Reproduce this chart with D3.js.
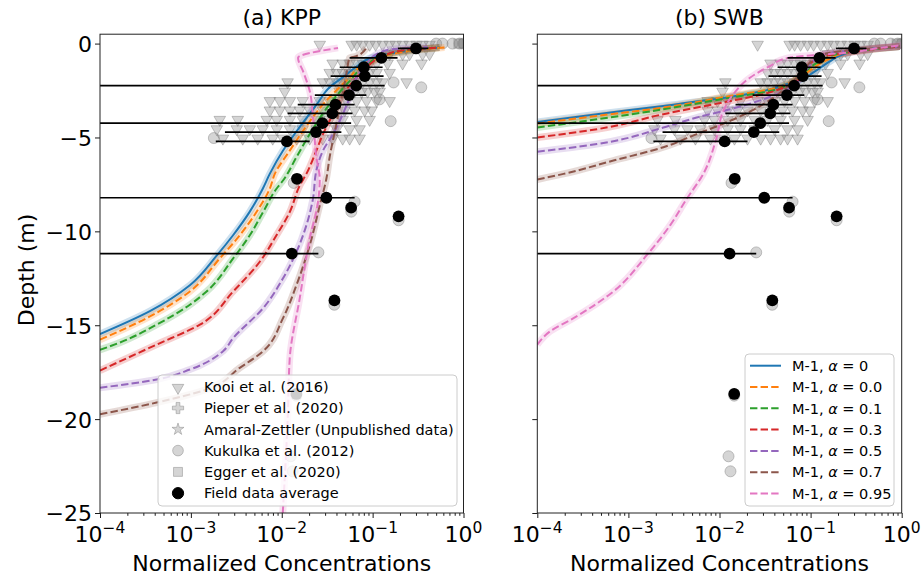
<!DOCTYPE html>
<html><head><meta charset="utf-8">
<script src="https://cdn.jsdelivr.net/npm/d3@7"></script>
<style>body{margin:0;background:#fff} text{font-family:"DejaVu Sans",sans-serif;fill:#000}</style>
</head><body><svg id="c" width="924" height="576"></svg>
<script>
// ---------------- DATA ----------------
const xTicks = [1e-4, 1e-3, 1e-2, 1e-1, 1];
const xTickExp = ["\u22124", "\u22123", "\u22122", "\u22121", "0"];
const yTicks = [0, -5, -10, -15, -20, -25];
const panelTitles = ["(a) KPP", "(b) SWB"];
const seriesLabels = ["0", "0.0", "0.1", "0.3", "0.5", "0.7", "0.95"];
const seriesColors = ["#1f77b4", "#ff7f0e", "#2ca02c", "#d62728", "#9467bd", "#8c564b", "#e377c2"];
const fieldLegendLabels = ["Kooi et al. (2016)", "Pieper et al. (2020)", "Amaral-Zettler (Unpublished data)", "Kukulka et al. (2012)", "Egger et al. (2020)", "Field data average"];

// Kooi et al. (2016) observations: rows of depths, concentrations per row
const kooiDepths = [0, -0.5, -1, -1.5, -2, -2.5, -3, -3.5, -4, -4.5, -5];
const kooiConc = [
  [0.0262, 0.0588, 0.0667, 0.0776, 0.0927, 0.1079, 0.1288, 0.1538, 0.1791, 0.2138, 0.2553, 0.3048, 0.354, 0.4227],
  [0.1538, 0.2138, 0.2553, 0.354, 0.4227],
  [0.0363, 0.0468, 0.0559, 0.0667, 0.0776, 0.0927, 0.1107, 0.1462, 0.2138, 0.3451],
  [0.0337, 0.0402, 0.0468, 0.0559, 0.0667, 0.0776, 0.0927, 0.1107, 0.1538],
  [0.0116, 0.0283, 0.0337, 0.0402, 0.0468, 0.0559, 0.0667, 0.0776, 0.0927, 0.1107, 0.1288, 0.2366],
  [0.0108, 0.0434, 0.0518, 0.0634, 0.0757, 0.0881, 0.1052, 0.1194],
  [0.0074, 0.0095, 0.0123, 0.017, 0.0262, 0.0337, 0.0412, 0.0518, 0.0667, 0.0859, 0.1107, 0.1538],
  [0.0074, 0.0095, 0.0123, 0.0158, 0.0203, 0.0283, 0.0382, 0.0492, 0.0634, 0.0817, 0.0975],
  [0.00208, 0.00328, 0.00684, 0.00881, 0.0123, 0.017, 0.0243, 0.0337, 0.0468, 0.0667, 0.0927],
  [0.00193, 0.0032, 0.00445, 0.00618, 0.00881, 0.0123, 0.017, 0.0243, 0.0402, 0.0559, 0.0719],
  [0.00225, 0.00372, 0.00544, 0.00796, 0.0103, 0.0146, 0.0203, 0.0283, 0.0363, 0.0468, 0.0559, 0.0719]
];
// Kukulka et al. (2012)
const kukulkaConc = [0.50, 0.587, 0.757, 0.904, 1.0, 0.170, 0.343, 0.119, 0.158, 0.00179, 0.01355, 0.0634, 0.0583, 0.193, 0.0253, 0.0379, 0.0145, 0.01256, 0.0132];
const kukulkaDepth = [0, 0, 0, 0, 0, -2.07, -2.33, -2.97, -4.13, -5.03, -7.42, -8.42, -8.95, -9.41, -11.12, -13.91, -18.75, -21.98, -22.78];
// Egger et al. (2020)
const eggerConc = [0.88, 1.0];
const eggerDepth = [0, 0];
// Field data average with spread
const fieldConc = [0.30, 0.125, 0.080, 0.082, 0.066, 0.055, 0.039, 0.036, 0.028, 0.0238, 0.0114, 0.0147, 0.031, 0.058, 0.193, 0.0129, 0.038, 0.0145];
const fieldDepth = [-0.26, -0.76, -1.26, -1.73, -2.24, -2.74, -3.25, -3.72, -4.24, -4.71, -5.21, -7.2, -8.21, -8.74, -9.2, -11.19, -13.68, -18.66];
const fieldLo = [0.19, 0.0558, 0.0434, 0.0345, 0, 0.0231, 0.015, 0.0116, 0, 0.00237, 0.00188, null, 0, null, null, 0, null, null];
const fieldHi = [0.41, 0.188, 0.1288, 0.132, 0.1355, 0.0853, 0.0634, 0.060, 0.058, 0.0453, 0.0203, null, 0.0634, null, null, 0.0253, null, null];

// Model profiles [concentration, depth]
const kppA0 = [[1e-4,-15.47],[3.54e-4,-14.25],[9.75e-4,-12.87],[0.00193,-11.28],[0.0029,-10.22],[0.00445,-8.95],[0.00618,-7.73],[0.00738,-6.94],[0.01026,-5.72],[0.01462,-4.66],[0.02427,-3.24],[0.03365,-2.33],[0.05176,-1.64],[0.0667,-1.22],[0.1,-0.74],[0.1837,-0.48],[0.3048,-0.32],[0.5445,-0.21]];
const kppA00 = [[1e-4,-15.77],[3.54e-4,-14.53],[9.75e-4,-13.2],[0.00208,-11.44],[0.00345,-10.21],[0.00527,-8.97],[0.00738,-7.73],[0.00838,-6.94],[0.01225,-5.7],[0.01714,-4.65],[0.02844,-3.24],[0.05585,-1.8],[0.0719,-1.27],[0.1194,-0.74],[0.198,-0.48],[0.328,-0.32],[0.618,-0.21]];
const kppA01 = [[1e-4,-16.31],[1.8e-4,-15.85],[4.2e-4,-14.97],[9.75e-4,-13.91],[0.00149,-13.2],[0.00292,-11.44],[0.00445,-10.21],[0.00624,-8.97],[0.00875,-7.73],[0.01033,-7.29],[0.01452,-6.05],[0.02032,-4.82],[0.03365,-3.23],[0.05585,-2.0],[0.0853,-1.11],[0.1288,-0.67],[0.225,-0.37],[0.5445,-0.21]];
const kppA03 = [[1e-4,-17.41],[4.2e-4,-16.03],[0.001256,-14.97],[0.00292,-13.2],[0.00573,-11.62],[0.00875,-10.21],[0.01225,-8.97],[0.01578,-7.56],[0.01866,-6.94],[0.02404,-5.7],[0.02844,-4.82],[0.03664,-3.76],[0.04721,-2.7],[0.0662,-1.82],[0.0927,-1.11],[0.1416,-0.58],[0.2553,-0.32],[0.5445,-0.21]];
const kppA05 = [[1e-4,-18.33],[4.2e-4,-17.89],[9.75e-4,-17.36],[0.00226,-16.38],[0.00292,-15.68],[0.00624,-14.09],[0.01033,-12.5],[0.01452,-11.09],[0.01866,-9.68],[0.02208,-8.26],[0.02404,-6.76],[0.02844,-5.7],[0.03664,-4.82],[0.04335,-4.12],[0.05585,-2.88],[0.0662,-1.82],[0.0853,-1.11],[0.1096,-0.58],[0.1538,-0.32],[0.4,-0.18]];
const kppA07 = [[1e-4,-19.74],[4.2e-4,-19.12],[0.00149,-18.42],[0.00345,-17.27],[0.00624,-16.38],[0.01033,-14.62],[0.01452,-12.86],[0.02032,-10.74],[0.02618,-8.62],[0.03097,-7.2],[0.03365,-6.05],[0.0399,-4.29],[0.04721,-2.53],[0.0514,-1.64],[0.05585,-0.76],[0.0662,-0.67],[0.0853,-0.23]];
const kppA095 = [[0.01026,-25],[0.01164,-19.92],[0.01225,-16.74],[0.01578,-13.56],[0.02032,-10.38],[0.02489,-8.53],[0.02618,-7.2],[0.02404,-6.05],[0.02208,-3.94],[0.02032,-2.53],[0.01714,-1.47],[0.0151,-0.76],[0.0416,-0.23]];

const swbA0 = [[1e-4,-4.17],[4.51e-4,-3.76],[0.00242,-3.32],[0.00855,-2.97],[0.01986,-2.7],[0.03573,-2.44],[0.05445,-2.17],[0.0706,-2.01],[0.1114,-1.48],[0.1626,-0.95],[0.2254,-0.58],[0.3936,-0.32],[0.95,-0.16]];
const swbA00 = [[1e-4,-4.26],[4.51e-4,-3.85],[0.00242,-3.41],[0.01303,-2.79],[0.03573,-2.44],[0.0701,-1.91],[0.1067,-1.3],[0.1626,-0.8],[0.2254,-0.53],[0.3936,-0.32],[0.95,-0.16]];
const swbA01 = [[1e-4,-4.47],[4.51e-4,-4.03],[0.00242,-3.5],[0.01303,-2.88],[0.03573,-2.53],[0.0593,-2.17],[0.0828,-1.59],[0.1262,-0.95],[0.2094,-0.53],[0.4457,-0.32],[0.95,-0.16]];
const swbA03 = [[1e-4,-5.0],[4.51e-4,-4.56],[0.00242,-3.76],[0.01303,-3.06],[0.0302,-2.7],[0.05,-2.35],[0.0701,-2.0],[0.1067,-0.94],[0.1374,-0.67],[0.2477,-0.49],[0.4457,-0.32],[0.95,-0.16]];
const swbA05 = [[1e-4,-5.76],[4.51e-4,-5.35],[0.00242,-4.47],[0.00562,-3.94],[0.01303,-3.5],[0.0302,-2.97],[0.0593,-2.35],[0.0828,-1.64],[0.1067,-0.94],[0.1374,-0.58],[0.2692,-0.37],[0.95,-0.16]];
const swbA07 = [[1e-4,-7.24],[1.94e-4,-6.94],[6.85e-4,-6.23],[0.00242,-5.52],[0.00562,-4.82],[0.01303,-4.12],[0.0302,-3.23],[0.05445,-2.35],[0.0828,-1.47],[0.1161,-0.76],[0.1626,-0.49],[0.3467,-0.32],[0.95,-0.16]];
const swbA095 = [[1e-4,-16.03],[1.387e-4,-15.32],[2.5e-4,-14.62],[6.85e-4,-13.2],[0.00159,-11.27],[0.00287,-9.68],[0.00438,-8.26],[0.00664,-6.94],[0.00931,-4.99],[0.01101,-3.59],[0.01416,-2.7],[0.02158,-1.82],[0.03573,-1.2],[0.05675,-0.76],[0.1067,-0.62],[0.2477,-0.49],[0.574,-0.23],[0.99,-0.09]];

const kppSeries = [kppA0, kppA00, kppA01, kppA03, kppA05, kppA07, kppA095];
const swbSeries = [swbA0, swbA00, swbA01, swbA03, swbA05, swbA07, swbA095];

// ---------------- DRAW ----------------
const svg = d3.select("#c");
const plotTop = 34.2, plotBottom = 513;
const y = d3.scaleLinear().domain([-25, 0.5]).range([plotBottom, plotTop]);
const panels = [
  {title: panelTitles[0], x0: 100, x1: 463.5, series: kppSeries},
  {title: panelTitles[1], x0: 537.3, x1: 901.7, series: swbSeries}
];
const gray = "#808080";
const FS = 22;
const minorVals = [];
for (let e = -4; e < 0; e++) for (let m = 2; m <= 9; m++) minorVals.push(m * Math.pow(10, e));

panels.forEach((p, pi) => {
  const x = d3.scaleLog().domain([1e-4, 1]).range([p.x0, p.x1]);
  const g = svg.append("g");
  const cid = "clip" + pi;
  svg.append("clipPath").attr("id", cid).append("rect")
    .attr("x", p.x0).attr("y", plotTop).attr("width", p.x1 - p.x0).attr("height", plotBottom - plotTop);
  const plot = g.append("g").attr("clip-path", `url(#${cid})`);

  const tri = d3.symbol().type(d3.symbolTriangle).size(58);
  kooiDepths.forEach((d, i) => {
    plot.selectAll(null).data(kooiConc[i]).enter().append("path")
      .attr("d", tri)
      .attr("transform", c => `translate(${x(c)},${y(d) + 1}) rotate(180)`)
      .attr("fill", gray).attr("fill-opacity", 0.33)
      .attr("stroke", gray).attr("stroke-opacity", 0.45).attr("stroke-width", 1);
  });
  plot.selectAll(null).data(kukulkaConc).enter().append("circle")
    .attr("cx", c => x(c)).attr("cy", (c, i) => y(kukulkaDepth[i])).attr("r", 5.5)
    .attr("fill", gray).attr("fill-opacity", 0.33)
    .attr("stroke", gray).attr("stroke-opacity", 0.45);
  plot.selectAll(null).data(eggerConc).enter().append("rect")
    .attr("x", c => x(c) - 4.5).attr("y", (c, i) => y(eggerDepth[i]) - 4.5)
    .attr("width", 9).attr("height", 9)
    .attr("fill", gray).attr("fill-opacity", 0.33)
    .attr("stroke", gray).attr("stroke-opacity", 0.45);

  const line = d3.line().x(d => x(d[0])).y(d => y(d[1])).curve(d3.curveMonotoneY);
  p.series.forEach((s, si) => {
    plot.append("path").attr("d", line(s)).attr("fill", "none")
      .attr("stroke", seriesColors[si]).attr("stroke-opacity", 0.22).attr("stroke-width", 7);
  });
  p.series.forEach((s, si) => {
    plot.append("path").attr("d", line(s)).attr("fill", "none")
      .attr("stroke", seriesColors[si]).attr("stroke-width", 2)
      .attr("stroke-dasharray", si === 0 ? null : "7.4,3.2");
  });

  fieldConc.forEach((c, i) => {
    if (fieldLo[i] === null) return;
    plot.append("line")
      .attr("x1", x(Math.max(fieldLo[i], 1e-6))).attr("x2", x(fieldHi[i]))
      .attr("y1", y(fieldDepth[i])).attr("y2", y(fieldDepth[i]))
      .attr("stroke", "#000").attr("stroke-width", 1.7);
  });
  plot.selectAll(null).data(fieldConc).enter().append("circle")
    .attr("cx", c => x(c)).attr("cy", (c, i) => y(fieldDepth[i])).attr("r", 5.9)
    .attr("fill", "#000");

  const xa = g.append("g").attr("transform", `translate(0,${plotBottom})`)
    .call(d3.axisBottom(x).tickValues(xTicks).tickSize(5).tickFormat(() => ""));
  const xm = g.append("g").attr("transform", `translate(0,${plotBottom})`)
    .call(d3.axisBottom(x).tickValues(minorVals).tickSize(2.8).tickFormat(() => ""));
  [xa, xm].forEach(a => { a.select(".domain").remove(); a.selectAll("line").attr("stroke", "#000").attr("stroke-width", 0.9); });
  xTicks.forEach((t, i) => {
    const tx = g.append("text").attr("x", x(t)).attr("y", 542).attr("text-anchor", "middle")
      .attr("font-size", FS);
    tx.append("tspan").text("10");
    tx.append("tspan").attr("dy", -9.5).attr("font-size", 15.5).text(xTickExp[i]);
  });
  const ya = g.append("g").attr("transform", `translate(${p.x0},0)`)
    .call(d3.axisLeft(y).tickValues(yTicks).tickSize(5)
      .tickFormat(d => pi === 0 ? (d < 0 ? "\u2212" + (-d) : d) : ""));
  ya.select(".domain").remove();
  ya.selectAll("line").attr("stroke", "#000").attr("stroke-width", 0.9);
  ya.selectAll("text").attr("font-size", FS).attr("font-family", "DejaVu Sans").attr("x", -8).attr("dy", "0.36em");

  g.append("rect").attr("x", p.x0).attr("y", plotTop).attr("width", p.x1 - p.x0).attr("height", plotBottom - plotTop)
    .attr("fill", "none").attr("stroke", "#222").attr("stroke-width", 1);

  g.append("text").attr("x", (p.x0 + p.x1) / 2).attr("y", 25).attr("text-anchor", "middle")
    .attr("font-size", FS).text(p.title);
  g.append("text").attr("x", (p.x0 + p.x1) / 2).attr("y", 571).attr("text-anchor", "middle")
    .attr("font-size", FS).text("Normalized Concentrations");
});

svg.append("text").attr("transform", "translate(34,270) rotate(-90)").attr("text-anchor", "middle")
  .attr("font-size", FS).text("Depth (m)");

const lg = svg.append("g");
lg.append("rect").attr("x", 158).attr("y", 375).attr("width", 299).attr("height", 131).attr("rx", 4)
  .attr("fill", "#fff").attr("fill-opacity", 0.8).attr("stroke", "#ccc");
const symTypes = [d3.symbolTriangle, d3.symbolCross, d3.symbolStar, d3.symbolCircle, d3.symbolSquare, d3.symbolCircle];
const symSizes = [58, 70, 45, 90, 80, 100];
fieldLegendLabels.forEach((lab, i) => {
  const cy = 386.7 + i * 21.3;
  const last = i === fieldLegendLabels.length - 1;
  lg.append("path").attr("d", d3.symbol().type(symTypes[i]).size(symSizes[i]))
    .attr("transform", `translate(178,${cy + (i === 0 ? 1 : 0)})${i === 0 ? " rotate(180)" : ""}`)
    .attr("fill", last ? "#000" : gray).attr("fill-opacity", last ? 1 : 0.33)
    .attr("stroke", last ? "#000" : gray).attr("stroke-opacity", last ? 1 : 0.45);
  lg.append("text").attr("x", 204).attr("y", cy).attr("dy", "0.36em").attr("font-size", 14.5).text(lab);
});

const rg = svg.append("g");
rg.append("rect").attr("x", 745).attr("y", 354).attr("width", 149).attr("height", 152).attr("rx", 4)
  .attr("fill", "#fff").attr("fill-opacity", 0.8).attr("stroke", "#ccc");
seriesLabels.forEach((lab, i) => {
  const cy = 365.7 + i * 21.3;
  rg.append("line").attr("x1", 750).attr("x2", 781).attr("y1", cy).attr("y2", cy)
    .attr("stroke", seriesColors[i]).attr("stroke-width", 2)
    .attr("stroke-dasharray", i === 0 ? null : "7.4,3.2");
  const t = rg.append("text").attr("x", 792).attr("y", cy).attr("dy", "0.36em").attr("font-size", 14.5);
  t.append("tspan").text("M-1, ");
  t.append("tspan").attr("font-style", "italic").text("\u03b1");
  t.append("tspan").text(" = " + lab);
});
</script></body></html>
